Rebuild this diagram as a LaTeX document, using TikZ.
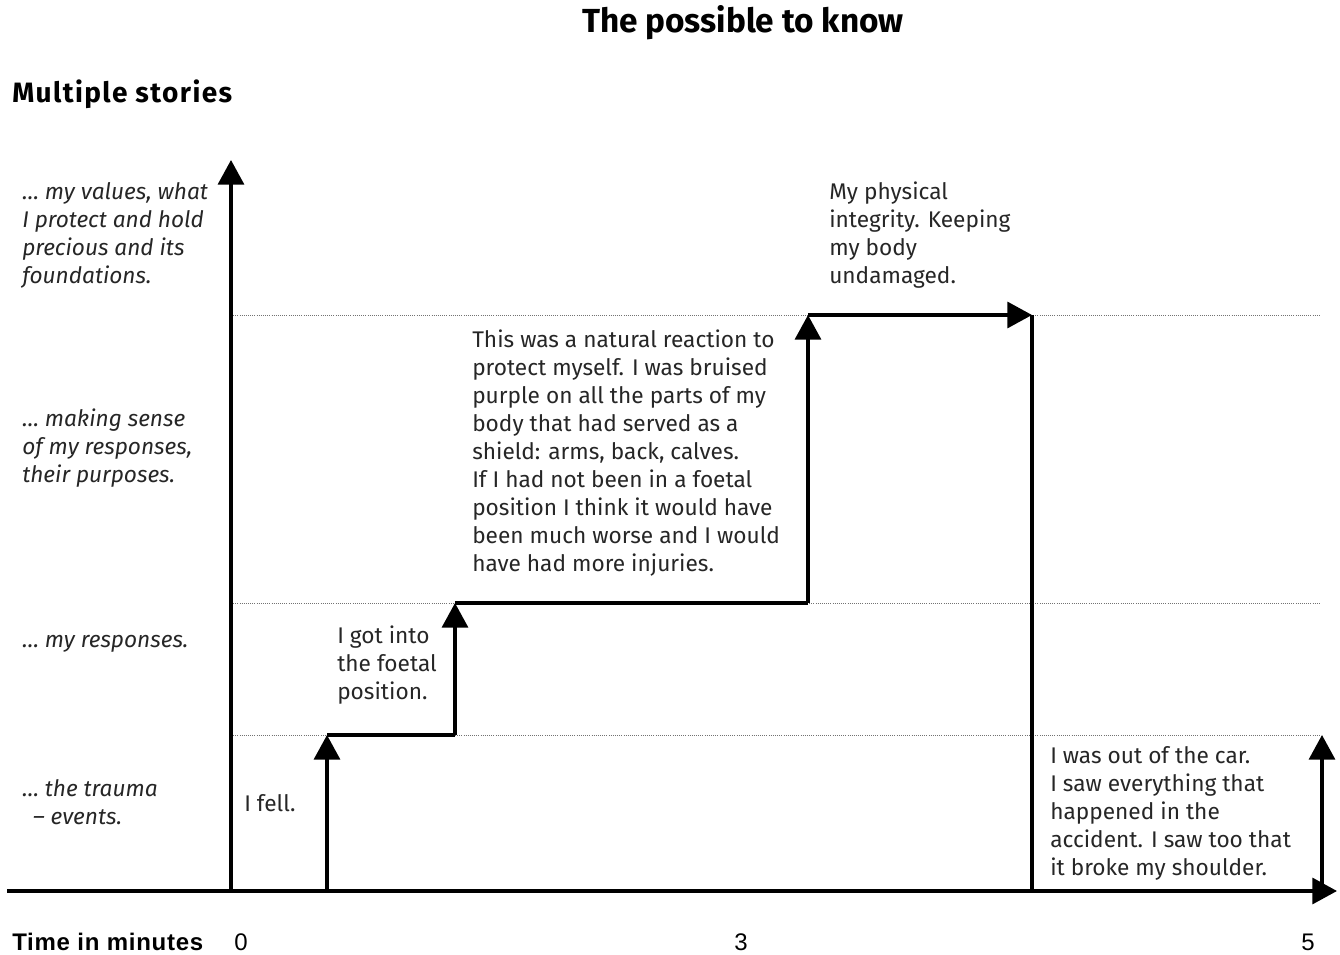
\documentclass[tikz,border=0pt]{standalone}
\usepackage{fontspec}
\setmainfont{Fira Sans}
\newfontfamily\axisfont[LetterSpace=3]{Liberation Sans}
\newfontfamily\numfont{Liberation Sans}
\newfontfamily\spacedfont[LetterSpace=5]{Fira Sans}
\usetikzlibrary{arrows.meta}

\begin{document}
\begin{tikzpicture}[x=0.75pt,y=-0.75pt,
  axis/.style={line width=2.5pt,-{Triangle[length=18.5pt,width=19.5pt]}},
  stepline/.style={line width=2.5pt},
  level/.style={black!55,line width=0.6pt,densely dotted},
  story/.style={anchor=north west,inner sep=0pt,align=left,text=black!85,
    font=\fontsize{17}{21}\selectfont},
  layer/.style={story,font=\fontsize{17}{21}\selectfont\itshape},
  heading/.style={inner sep=0pt,font=\fontsize{25}{28}\selectfont\bfseries},
  tick/.style={inner sep=0pt,font=\fontsize{18}{21}\numfont}]

  \useasboundingbox (0,0) rectangle (1340,955);

  %% headings
  \node[heading] (title) at (743,23) {The possible to know};
  \node[heading,anchor=west,font=\fontsize{21}{24}\spacedfont\bfseries] (stories) at (12,94) {Multiple stories};

  %% axes
  \coordinate (O) at (231,891);
  \coordinate (ytop) at (231,160);
  \coordinate (xleft) at (7,891);
  \coordinate (xright) at (1337,891);

  \foreach \y in {315,603,735}
    \draw[level] (231,\y) -- (1320,\y);

  \draw[axis] (O) -- (ytop);
  \draw[axis] (xleft) -- (xright);

  %% layer labels
  \node[layer] (values) at (22,182) {\dots\ my values, what\\I protect and hold\\precious and its\\foundations.};
  \node[layer] (sense) at (22,409) {\dots\ making sense\\of my responses,\\their purposes.};
  \node[layer] (resp) at (22,635) {\dots\ my responses.};
  \node[layer] (trauma) at (22,779) {\dots\ the trauma\\\hphantom{x}-- events.};

  %% the steps
  \coordinate (a0) at (327,891);
  \coordinate (a1) at (327,735);
  \coordinate (b1) at (455,735);
  \coordinate (b2) at (455,603);
  \coordinate (c2) at (808,603);
  \coordinate (c3) at (808,315);
  \coordinate (d3) at (1032,315);
  \coordinate (d0) at (1032,891);
  \coordinate (e0) at (1322,891);
  \coordinate (e1) at (1322,735);

  \draw[axis] (a0) -- (a1);      % fell
  \draw[stepline] (a1) -- (b1);
  \draw[axis] (b1) -- (b2);      % foetal
  \draw[stepline] (b2) -- (c2);
  \draw[axis] (c2) -- (c3);      % values
  \draw[axis] (c3) -- (d3);
  \draw[stepline] (d3) -- (d0);  % back down
  \draw[axis] (e0) -- (e1);      % out of the car

  %% stories
  \node[story] (fell) at (244,794) {I fell.};
  \node[story] (foetal) at (337,626) {I got into\\the foetal\\position.};
  \node[story] (natural) at (472,330) {This was a natural reaction to\\protect myself. I was bruised\\purple on all the parts of my\\body that had served as a\\shield: arms, back, calves.\\If I had not been in a foetal\\position I think it would have\\been much worse and I would\\have had more injuries.};
  \node[story] (integrity) at (829,182) {My physical\\integrity. Keeping\\my body\\undamaged.};
  \node[story] (car) at (1050,746) {I was out of the car.\\I saw everything that\\happened in the\\accident. I saw too that\\it broke my shoulder.};

  %% time axis
  \node[anchor=west,inner sep=0pt,font=\fontsize{18}{21}\axisfont\bfseries] (time) at (12,942) {Time in minutes};
  \node[tick] (t0) at (241,942) {0};
  \node[tick] (t3) at (741,942) {3};
  \node[tick] (t5) at (1308,942) {5};

\end{tikzpicture}
\end{document}
